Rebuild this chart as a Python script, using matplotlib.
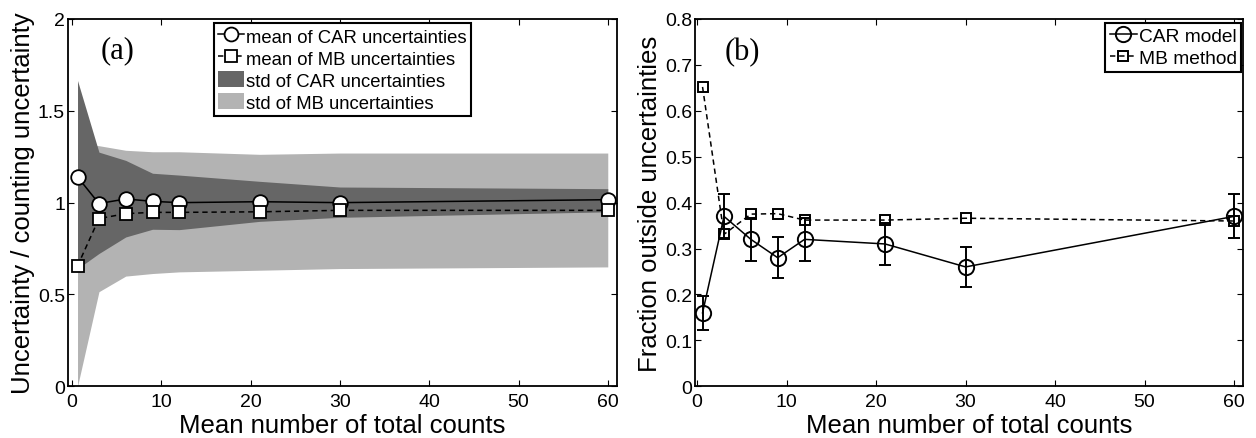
import numpy as np
import matplotlib
matplotlib.use("Agg")
import matplotlib.pyplot as plt
from matplotlib.patches import Patch
from matplotlib.lines import Line2D

plt.rcParams['font.family'] = ['Liberation Sans', 'DejaVu Sans']

# mean number of total counts
counts = [0.6, 3, 6, 9, 12, 21, 30, 60]

# panel (a): ratio uncertainty / counting uncertainty
car_mean = [1.14, 0.995, 1.02, 1.007, 1.0, 1.005, 1.0, 1.016]
mb_mean = [0.655, 0.913, 0.94, 0.947, 0.947, 0.95, 0.958, 0.958]
car_hi = [1.665, 1.275, 1.23, 1.16, 1.15, 1.116, 1.085, 1.076]
car_lo = [0.64, 0.723, 0.813, 0.855, 0.853, 0.898, 0.92, 0.95]
mb_hi = [1.32, 1.31, 1.285, 1.277, 1.277, 1.263, 1.27, 1.27]
mb_lo = [0.0, 0.515, 0.60, 0.614, 0.623, 0.632, 0.641, 0.65]

# panel (b): fraction outside uncertainties
car_frac = [0.16, 0.37, 0.32, 0.28, 0.32, 0.31, 0.26, 0.37]
car_err = [0.037, 0.048, 0.047, 0.045, 0.047, 0.046, 0.044, 0.048]
mb_frac = [0.652, 0.331, 0.375, 0.376, 0.362, 0.362, 0.366, 0.36]

dark = '#666666'
light = '#b3b3b3'
lw = 1.1
tick_fs = 14
label_fs = 18.5
leg_fs = 13.3

fig = plt.figure(figsize=(12.56, 4.39), dpi=100)
ax1 = fig.add_axes([0.0539, 0.1178, 0.4371, 0.8367])
ax2 = fig.add_axes([0.5533, 0.1178, 0.4363, 0.8367])

# ---- (a)
ax1.fill_between(counts, mb_lo, mb_hi, color=light, linewidth=0)
ax1.fill_between(counts, car_lo, car_hi, color=dark, linewidth=0)
ax1.plot(counts, car_mean, '-o', color='k', lw=lw, mfc='white', mec='k', mew=1.3, ms=10.5)
ax1.plot(counts, mb_mean, '--s', color='k', lw=lw, dashes=(3.5, 2.5), mfc='white', mec='k', mew=1.3, ms=8)
ax1.set_xlim(-0.5, 61)
ax1.set_ylim(0, 2)
ax1.set_yticks([0, 0.5, 1, 1.5, 2])
ax1.set_yticklabels(['0', '0.5', '1', '1.5', '2'])
ax1.set_xlabel('Mean number of total counts', fontsize=label_fs, labelpad=2)
ax1.set_ylabel('Uncertainty / counting uncertainty', fontsize=label_fs, labelpad=2)
ax1.text(3.2, 1.83, '(a)', fontsize=22, family=['Liberation Serif', 'DejaVu Serif'], va='center', ha='left')

h1 = [Line2D([], [], color='k', lw=lw, marker='o', mfc='white', mec='k', mew=1.3, ms=10),
      Line2D([], [], color='k', lw=lw, ls='--', dashes=(3.5, 2.5), marker='s', mfc='white', mec='k', mew=1.3, ms=8),
      Patch(facecolor=dark, edgecolor='none'),
      Patch(facecolor=light, edgecolor='none')]
l1 = ['mean of CAR uncertainties', 'mean of MB uncertainties',
      'std of CAR uncertainties', 'std of MB uncertainties']
leg = ax1.legend(h1, l1, loc='upper right', bbox_to_anchor=(0.735, 0.99), borderaxespad=0,
                 fontsize=leg_fs, handlelength=1.4, handleheight=0.95, handletextpad=0.1,
                 labelspacing=0.2, borderpad=0.25, fancybox=False, framealpha=1, edgecolor='k', numpoints=1)
leg.get_frame().set_linewidth(1.5)

# ---- (b)
ax2.errorbar(counts, car_frac, yerr=car_err, fmt='-o', color='k', lw=lw, elinewidth=1.4,
             capsize=4, capthick=1.4, mfc='none', mec='k', mew=1.4, ms=11)
ax2.plot(counts, mb_frac, '--s', color='k', lw=lw, dashes=(3.5, 2.5), mfc='none', mec='k', mew=1.4, ms=7.5)
ax2.set_xlim(-0.25, 61)
ax2.set_ylim(0, 0.8)
ax2.set_yticks(np.arange(0, 0.81, 0.1))
ax2.set_yticklabels(['0', '0.1', '0.2', '0.3', '0.4', '0.5', '0.6', '0.7', '0.8'])
ax2.set_xlabel('Mean number of total counts', fontsize=label_fs, labelpad=2)
ax2.set_ylabel('Fraction outside uncertainties', fontsize=label_fs, labelpad=2)
ax2.text(3.1, 0.73, '(b)', fontsize=22, family=['Liberation Serif', 'DejaVu Serif'], va='center', ha='left')

h2 = [Line2D([], [], color='k', lw=lw, marker='o', mfc='none', mec='k', mew=1.4, ms=11),
      Line2D([], [], color='k', lw=lw, ls='--', dashes=(3.5, 2.5), marker='s', mfc='none', mec='k', mew=1.4, ms=7.5)]
leg2 = ax2.legend(h2, ['CAR model', 'MB method'], loc='upper right', bbox_to_anchor=(0.997, 0.99),
                  borderaxespad=0, fontsize=13.8, handlelength=1.4, handletextpad=0.1, labelspacing=0.25,
                  borderpad=0.25, fancybox=False, framealpha=1, edgecolor='k', numpoints=1)
leg2.get_frame().set_linewidth(1.5)

for ax in (ax1, ax2):
    ax.set_xticks([0, 10, 20, 30, 40, 50, 60])
    ax.tick_params(direction='in', length=4, width=0.8, top=True, right=True,
                   labelsize=tick_fs)
    ax.tick_params(axis='x', pad=5)
    ax.tick_params(axis='y', pad=2)
    for s in ax.spines.values():
        s.set_linewidth(1.3)

fig.savefig('out.png', dpi=100)
